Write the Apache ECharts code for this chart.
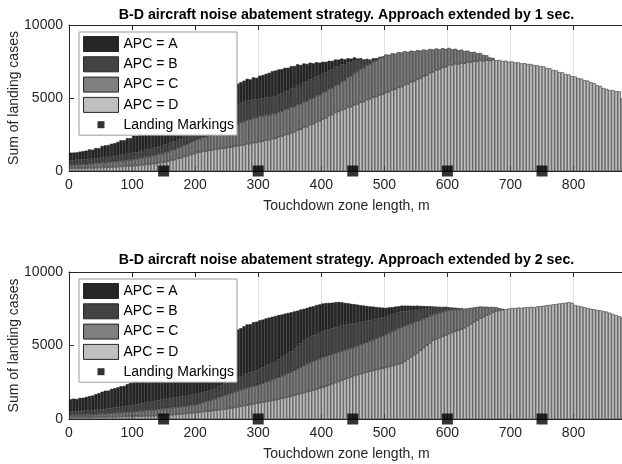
<!DOCTYPE html>
<html><head><meta charset="utf-8">
<script src="https://cdn.jsdelivr.net/npm/echarts@6/dist/echarts.min.js"></script>
<style>html,body{margin:0;padding:0;background:#fff}#c{width:622px;height:464px}</style>
</head><body><div id="c"></div>
<script>
// ---------- data ----------
const BIN_WIDTH = 5;      // m per histogram bin
const BIN_COUNT = 176;    // bins 0..880 m
const xTickStep = 100;
const xTickLast = 800;
const yTicks = [0, 5000, 10000];
const landingMarks = [150, 300, 450, 600, 750];
const seriesNames = ['APC = A', 'APC = B', 'APC = C', 'APC = D'];
const markName = 'Landing Markings';
const titles = [
  'B-D aircraft noise abatement strategy. Approach extended by 1 sec.',
  'B-D aircraft noise abatement strategy. Approach extended by 2 sec.'
];
const xName = 'Touchdown zone length, m';
const yName = 'Sum of landing cases';

// Plot 1 (extended by 1 sec), per-bin counts for each APC layer
const topD = [180,172,195,183,204, 198,218,207,229,233, 243,248,262,266,284, 288,305,312,334,341, 362,371,405,416,446, 455,497,515,566,584, 625,672,741,782,858, 893,982,1031,1122,1170, 1262,1281,1342,1358,1421, 1440,1495,1502,1553,1561, 1612,1628,1697,1709,1772, 1790,1856,1871,1934,1948, 2013,2038,2117,2136,2215, 2238,2335,2377,2478,2516, 2617,2672,2798,2853,2981, 3032,3171,3228,3372,3431, 3568,3641,3792,3861,4012, 4083,4197,4243,4361,4402, 4521,4572,4702,4748,4883, 4931,5052,5093,5212,5251, 5371,5422,5553,5601,5732, 5781,5913,5962,6093,6141, 6272,6341,6492,6561,6713, 6782,6912,6961,7093,7141, 7268,7262,7331,7322,7392, 7381,7452,7441,7512,7498, 7570,7542,7591,7562,7611, 7582,7601,7540,7552,7488, 7502,7431,7438,7372,7381, 7332,7322,7251,7248,7172, 7168,7062,7031,6921,6889, 6781,6752,6641,6612,6501, 6472,6362,6331,6221,6192, 6081,6021,5881,5822,5681, 5622,5541,5538,5462,5451, 4980];
const topC = [236,228,251,247,266, 264,285,283,309,304, 327,322,347,346,368, 362,391,392,419,421, 447,453,488,494,527, 531,566,569,601,606, 638,647,686,695,734, 742,788,802,848,862, 908,922,968,982,1028, 1041,1108,1141,1209,1241, 1309,1351,1428,1471,1548, 1591,1638,1652,1698,1712, 1758,1732,1738,1712,1718, 1692,1718,1712,1738,1732, 1758,1742,1758,1741,1756, 1742,1768,1762,1788,1782, 1808,1802,1828,1822,1848, 1842,1928,1982,2068,2122, 2208,2232,2288,2312,2368, 2392,2448,2472,2528,2552, 2608,2542,2508,2442,2408, 2342,2288,2202,2148,2062, 2008,1902,1828,1722,1648, 1542,1478,1382,1318,1222, 1158,1082,1038,962,918, 842,788,702,648,562, 508,402,328,212,128];
const topB = [312,305,318,322,326, 331,328,337,333,339, 341,344,352,358,372, 389,398,412,425,441, 452,458,471,483,494, 502,509,521,533,544, 552,548,556,551,553, 558,592,641,688,721, 752,801,852,901,952, 1002,1068,1121,1182,1248, 1298,1312,1322,1338,1342, 1351,1318,1282,1248,1212, 1202,1198,1208,1192,1202, 1198,1212,1218,1232,1241, 1252,1271,1288,1312,1328, 1352,1338,1331,1318,1308, 1298,1292,1281,1272,1261, 1252,1172,1088,1012,932, 852,728,612,488,372, 252,182,121,72,38];
const topA = [528,556,512,574,565, 602,648,631,702,688, 798,842,818,896,882, 951,1012,986,1068,1042, 1152,1131,1188,1162,1208, 1198,1232,1184,1221,1196, 1202,1248,1286,1321,1372, 1398,1421,1368,1412,1389, 1402,1452,1418,1488,1462, 1502,1468,1432,1478,1398, 1402,1442,1398,1462,1418, 1452,1498,1472,1532,1508, 1552,1602,1588,1682,1698, 1752,1688,1672,1618,1582, 1552,1498,1462,1352,1298, 1202,1138,1052,972,898, 802,742,648,582,512, 452,402,338,282,238, 202,172,128,98,62, 52,28,12];

// Plot 2 (extended by 2 sec)
const botD = [108,114,109,118,112, 121,118,126,129,134, 141,138,147,152,155, 162,158,167,171,176, 182,186,193,198,204, 212,218,228,238,248, 262,271,288,302,318, 332,351,378,402,428, 452,468,498,521,542, 562,588,618,642,672, 702,738,782,822,862, 902,938,982,1021,1062, 1102,1138,1182,1222,1262, 1302,1348,1402,1448,1502, 1552,1608,1672,1728,1792, 1852,1908,1972,2028,2092, 2152,2228,2312,2388,2472, 2552,2628,2712,2788,2872, 2952,3008,3072,3128,3192, 3252,3298,3352,3398,3452, 3502,3558,3622,3678,3742, 3802,3938,4082,4218,4362, 4502,4668,4842,5008,5182, 5352,5438,5532,5618,5712, 5802,5878,5962,6038,6122, 6202,6338,6462,6598,6722, 6852,6948,7052,7148,7252, 7352,7388,7432,7468,7512, 7552,7538,7582,7561,7598, 7602,7628,7622,7658,7672, 7702,7738,7762,7798,7822, 7858,7878,7912,7948,7902, 7752,7698,7652,7608,7552, 7502,7468,7422,7388,7342, 7302,7228,7142,7068,6982, 6902];
const botC = [158,164,166,172,176, 181,186,192,198,204, 211,221,232,242,251, 262,271,284,296,308, 321,334,348,362,376, 391,402,418,432,446, 462,468,478,486,492, 502,512,521,532,541, 552,588,628,668,702, 742,792,852,902,952, 1002,1032,1062,1092,1122, 1152,1172,1192,1212,1232, 1252,1292,1332,1372,1412, 1452,1492,1532,1572,1612, 1652,1702,1752,1802,1852, 1902,1932,1962,1992,2022, 2052,2042,2032,2022,2012, 2002,1992,1982,1972,1962, 1952,1972,1992,2012,2032, 2052,2092,2132,2172,2212, 2252,2292,2332,2372,2412, 2452,2392,2332,2272,2212, 2152,2072,1992,1912,1832, 1752,1722,1692,1662,1632, 1602,1542,1482,1422,1362, 1302,1202,1102,1002,902, 802,692,582,472,362, 252,152,62];
const botB = [228,236,242,251,254, 262,268,276,284,292, 302,318,332,348,366, 382,396,412,426,438, 452,472,492,512,532, 552,568,584,598,614, 632,640,648,656,664, 672,678,684,690,696, 702,698,702,698,702, 702,722,742,762,782, 802,832,862,892,922, 952,972,992,1012,1032, 1052,1072,1092,1112,1132, 1152,1202,1252,1302,1352, 1402,1472,1542,1612,1682, 1752,1752,1748,1752,1748, 1752,1748,1752,1748,1752, 1752,1722,1692,1662,1632, 1602,1562,1522,1482,1442, 1402,1362,1322,1282,1242, 1202,1172,1142,1112,1082, 1052,992,932,872,812, 752,692,632,572,512, 452,402,352,302,252, 202,162,122,82,42];
const botA = [852,868,842,896,902, 938,988,1002,1078,1124, 1198,1248,1218,1302,1318, 1352,1402,1388,1478,1532, 1598,1642,1618,1702,1728, 1752,1798,1772,1862,1898, 1952,2038,2102,2178,2232, 2302,2398,2452,2562,2618, 2702,2778,2818,2898,2948, 3002,3052,3068,3132,3168, 3202,3242,3228,3282,3268, 3302,3348,3282,3338,3292, 3302,3262,3238,3192,3148, 3102,3028,2918,2842,2748, 2652,2538,2402,2302,2168, 2052,2038,1982,1978,1932, 1902,1868,1802,1752,1712, 1652,1598,1512,1452,1368, 1302,1238,1152,1092,1018, 952,892,802,742,668, 602,572,512,482,432, 402,388,362,342,312, 302,262,222,182,142, 102,82,52,32,12];

// ---------- chart ----------
const FONT = '"Liberation Sans", Arial, Helvetica, sans-serif';
const AX = '#262626';
const layerColors = {'APC = A':'#262626','APC = B':'#434343','APC = C':'#7f7f7f','APC = D':'#bfbfbf'};
const binStarts = Array.from({length: BIN_COUNT}, (_, i) => String(i * BIN_WIDTH));
const xMax = BIN_COUNT * BIN_WIDTH;
const plots = [
  {layers: {'APC = A': topA, 'APC = B': topB, 'APC = C': topC, 'APC = D': topD}, top: 25, height: 146, legendTop: 32, titleY: 15},
  {layers: {'APC = A': botA, 'APC = B': botB, 'APC = C': botC, 'APC = D': botD}, top: 272, height: 147, legendTop: 279, titleY: 260}
];

const grid = [], xAxis = [], yAxis = [], series = [], legend = [], graphic = [];
plots.forEach((p, g) => {
  grid.push({left: 69, width: 555, top: p.top, height: p.height, containLabel: false, outerBoundsMode: 'none'});
  xAxis.push({type: 'category', gridIndex: g, position: 'bottom', data: binStarts, boundaryGap: true, show: false});
  xAxis.push({type: 'value', gridIndex: g, position: 'bottom', min: 0, max: xMax, interval: xTickStep,
    axisLine: {show: true, onZero: false, lineStyle: {color: AX, width: 1}},
    axisTick: {show: true, inside: true, length: 5, lineStyle: {color: AX}},
    axisLabel: {fontSize: 14, color: AX, fontFamily: FONT, margin: 7, showMaxLabel: false,
      formatter: v => (v <= xTickLast ? String(v) : '')},
    splitLine: {show: true, lineStyle: {color: '#e2e2e2', width: 1}},
    name: xName, nameLocation: 'middle', nameGap: 28, nameMoveOverlap: false,
    nameTextStyle: {fontSize: 14, color: AX, fontFamily: FONT}});
  xAxis.push({type: 'value', gridIndex: g, position: 'top', min: 0, max: xMax, interval: xTickStep,
    axisLine: {show: true, onZero: false, lineStyle: {color: AX, width: 1}},
    axisTick: {show: true, inside: true, length: 5, lineStyle: {color: AX}},
    axisLabel: {show: false}, splitLine: {show: false}});
  yAxis.push({type: 'value', gridIndex: g, min: yTicks[0], max: yTicks[yTicks.length - 1], interval: yTicks[1] - yTicks[0],
    axisLine: {show: true, onZero: false, lineStyle: {color: AX, width: 1}},
    axisTick: {show: true, inside: true, length: 5, lineStyle: {color: AX}},
    axisLabel: {fontSize: 14, color: AX, fontFamily: FONT, margin: 6, formatter: v => String(v)},
    splitLine: {show: false},
    name: yName, nameLocation: 'middle', nameGap: 48, nameMoveOverlap: false,
    nameTextStyle: {fontSize: 14, color: AX, fontFamily: FONT}});
  // stacked layers: D at the bottom, A on top
  ['APC = D', 'APC = C', 'APC = B', 'APC = A'].forEach(name => {
    series.push({type: 'bar', name, xAxisIndex: 3 * g, yAxisIndex: g, stack: 'plot' + g,
      data: p.layers[name], barWidth: '100%', barCategoryGap: '0%',
      itemStyle: {color: layerColors[name], borderColor: '#141414', borderWidth: 0.5},
      emphasis: {disabled: true}, animation: false});
  });
  series.push({type: 'scatter', name: markName, xAxisIndex: 3 * g + 1, yAxisIndex: g,
    data: landingMarks.map(x => [x, 0]), symbol: 'rect', symbolSize: 11,
    itemStyle: {color: '#000'}, clip: false, z: 10, emphasis: {disabled: true}, animation: false});
  legend.push({show: true, orient: 'vertical', left: 79, top: p.legendTop,
    padding: [4, 3, 3, 4], itemWidth: 35, itemHeight: 15, itemGap: 4.3,
    backgroundColor: '#fff', borderColor: '#9a9a9a', borderWidth: 1, borderRadius: 0,
    selectedMode: false,
    textStyle: {fontSize: 14, color: '#000', fontFamily: FONT},
    data: seriesNames.map(n => ({name: n, icon: 'rect', itemStyle: {borderColor: '#262626', borderWidth: 1}}))
      .concat([{name: markName, icon: 'path://M0,0M35,15M14,4h7v7h-7z'}])});
  graphic.push({type: 'text', x: 69 + 555 / 2, y: p.titleY, z: 20,
    style: {text: titles[g], fill: '#000', font: 'bold 14.2px ' + FONT, textAlign: 'center', textVerticalAlign: 'middle'}});
});

const chart = echarts.init(document.getElementById('c'), null, {renderer: 'canvas'});
chart.setOption({animation: false, backgroundColor: '#fff', grid, xAxis, yAxis, series, legend, graphic});
</script></body></html>
